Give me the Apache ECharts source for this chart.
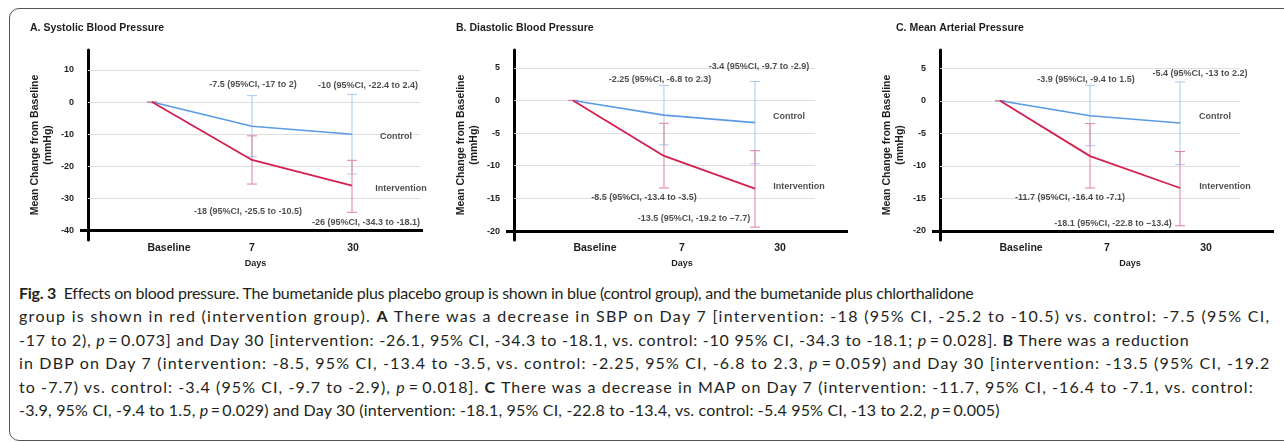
<!DOCTYPE html>
<html>
<head>
<meta charset="utf-8">
<title>Fig. 3 Effects on blood pressure</title>
<script src="https://cdn.jsdelivr.net/npm/echarts@6/dist/echarts.min.js"></script>
<style>
  body { margin: 0; background: #fff; width: 1284px; height: 442px; overflow: hidden; position: relative; }
  #frame { position: absolute; left: 9px; top: 8px; width: 1400px; height: 431px;
           border: 1.5px solid #555; border-radius: 10px; }
  #main { position: absolute; left: 0; top: 0; width: 1284px; height: 275px; }
  #caption { position: absolute; left: 19px; top: 281px; font-family: Lato, 'Noto Sans', sans-serif;
             font-size: 16px; line-height: 23.4px; color: #231f20; }
  #caption .ln { white-space: nowrap; }
</style>
</head>
<body>
<div id="frame"></div>
<div id="main"></div>
<div id="caption">
  <div class="ln" data-w="954"><b>Fig. 3</b>&nbsp; Effects on blood pressure. The bumetanide plus placebo group is shown in blue (control group), and the bumetanide plus chlorthalidone</div>
  <div class="ln" data-w="1252">group is shown in red (intervention group). <b>A</b> There was a decrease in SBP on Day 7 [intervention: -18 (95% CI, -25.2 to -10.5) vs. control: -7.5 (95% CI,</div>
  <div class="ln" data-w="1171">-17 to 2), <i>p</i>&#8201;=&#8201;0.073] and Day 30 [intervention: -26.1, 95% CI, -34.3 to -18.1, vs. control: -10 95% CI, -34.3 to -18.1; <i>p</i>&#8201;=&#8201;0.028]. <b>B</b> There was a reduction</div>
  <div class="ln" data-w="1252">in DBP on Day 7 (intervention: -8.5, 95% CI, -13.4 to -3.5, vs. control: -2.25, 95% CI, -6.8 to 2.3, <i>p</i>&#8201;=&#8201;0.059) and Day 30 [intervention: -13.5 (95% CI, -19.2</div>
  <div class="ln" data-w="1235">to -7.7) vs. control: -3.4 (95% CI, -9.7 to -2.9), <i>p</i>&#8201;=&#8201;0.018]. <b>C</b> There was a decrease in MAP on Day 7 (intervention: -11.7, 95% CI, -16.4 to -7.1, vs. control:</div>
  <div class="ln" data-w="981">-3.9, 95% CI, -9.4 to 1.5, <i>p</i>&#8201;=&#8201;0.029) and Day 30 (intervention: -18.1, 95% CI, -22.8 to -13.4, vs. control: -5.4 95% CI, -13 to 2.2, <i>p</i>&#8201;=&#8201;0.005)</div>
</div>
<script type="text/javascript">
var days = ['Baseline', '7', '30'];

// A. systolic
var sbpTicks = [-40, -30, -20, -10, 0, 10];
var sbpControl = [0, -7.5, -10];
var sbpControlLow = [0, -17, -22.4];
var sbpControlHigh = [0, 2, 2.4];
var sbpInterv = [0, -18, -26];
var sbpIntervLow = [0, -25.5, -34.3];
var sbpIntervHigh = [0, -10.5, -18.1];
var sbpNotes = ['-7.5 (95%CI, -17 to 2)', '-10 (95%CI, -22.4 to 2.4)',
  '-18 (95%CI, -25.5 to -10.5)', '-26 (95%CI, -34.3 to -18.1)'];

// B. diastolic
var dbpTicks = [-20, -15, -10, -5, 0, 5];
var dbpControl = [0, -2.25, -3.4];
var dbpControlLow = [0, -6.8, -9.7];
var dbpControlHigh = [0, 2.3, 2.9];
var dbpInterv = [0, -8.5, -13.5];
var dbpIntervLow = [0, -13.4, -19.4];
var dbpIntervHigh = [0, -3.5, -7.7];
var dbpNotes = ['-2.25 (95%CI, -6.8 to 2.3)', '-3.4 (95%CI, -9.7 to -2.9)',
  '-8.5 (95%CI, -13.4 to -3.5)', '-13.5 (95%CI, -19.2 to \u20137.7)'];

// C. mean arterial
var mapTicks = [-20, -15, -10, -5, 0, 5];
var mapControl = [0, -2.3, -3.4];
var mapControlLow = [0, -6.9, -9.8];
var mapControlHigh = [0, 2.4, 2.9];
var mapInterv = [0, -8.5, -13.4];
var mapIntervLow = [0, -13.4, -19.2];
var mapIntervHigh = [0, -3.5, -7.8];
var mapNotes = ['-3.9 (95%CI, -9.4 to 1.5)', '-5.4 (95%CI, -13 to 2.2)',
  '-11.7 (95%CI, -16.4 to -7.1)', '-18.1 (95%CI, -22.8 to \u201313.4)'];

var groupNames = ['Control', 'Intervention'];

// layout of each panel (pixels / axis extents)
var layouts = [
  { title: 'A. Systolic Blood Pressure', titleLeft: 30, left: 80, right: 861,
    xMin: -0.72, xMax: 2.71, gridFrom: -0.64, gridTo: 2.68, yMin: -42.9, yMax: 16.2,
    labelShift: [17, 0, 1], daysShift: 4,
    noteOffsets: [[1, -11], [16, -9], [-4, 27], [14, 10], [44, 2], [49, 3]] },
  { title: 'B. Diastolic Blood Pressure', titleLeft: 456, left: 506, right: 436,
    xMin: -0.736, xMax: 3.022, gridFrom: -0.645, gridTo: 2.66, yMin: -21.37, yMax: 7.72,
    labelShift: [22, 18, 25], daysShift: 5,
    noteOffsets: [[-4, -6], [4, -15], [-20, 10], [-61, -9], [34, -6], [44, -2]] },
  { title: 'C. Mean Arterial Pressure', titleLeft: 896, left: 932, right: 10,
    xMin: -0.756, xMax: 3.044, gridFrom: -0.667, gridTo: 2.667, yMin: -21.39, yMax: 7.81,
    labelShift: [21, 17, 26], daysShift: 27,
    noteOffsets: [[-4, -6], [20, -8], [-20, 10], [-67, -2], [35, -6], [45, -1]] }
];

var panels = [
  { ticks: sbpTicks, ctrl: sbpControl, ctrlLo: sbpControlLow, ctrlHi: sbpControlHigh,
    intv: sbpInterv, intvLo: sbpIntervLow, intvHi: sbpIntervHigh, notes: sbpNotes },
  { ticks: dbpTicks, ctrl: dbpControl, ctrlLo: dbpControlLow, ctrlHi: dbpControlHigh,
    intv: dbpInterv, intvLo: dbpIntervLow, intvHi: dbpIntervHigh, notes: dbpNotes },
  { ticks: mapTicks, ctrl: mapControl, ctrlLo: mapControlLow, ctrlHi: mapControlHigh,
    intv: mapInterv, intvLo: mapIntervLow, intvHi: mapIntervHigh, notes: mapNotes }
];

var FONT = '"Liberation Sans", Arial, sans-serif';
var INK = '#1e1e1e';
var BLUE = '#5b9ae4', BLUE_BAR = '#a9c9ef';
var RED = '#d3204f', RED_BAR = '#e27f99';

var myChart = echarts.init(document.getElementById('main'));

function renderErrorBar(params, api) {
  var x = api.value(0);
  var lo = api.coord([x, api.value(1)]);
  var hi = api.coord([x, api.value(2)]);
  var hw = 5;
  var style = { stroke: api.visual('color'), lineWidth: 1 };
  return {
    type: 'group',
    children: [
      { type: 'line', shape: { x1: lo[0], y1: lo[1], x2: hi[0], y2: hi[1] }, style: style },
      { type: 'line', shape: { x1: lo[0] - hw, y1: lo[1], x2: lo[0] + hw, y2: lo[1] }, style: style },
      { type: 'line', shape: { x1: hi[0] - hw, y1: hi[1], x2: hi[0] + hw, y2: hi[1] }, style: style }
    ]
  };
}

var grids = [], xAxes = [], yAxes = [], titles = [], series = [];

panels.forEach(function (p, k) {
  var lay = layouts[k];
  titles.push({
    text: lay.title, left: lay.titleLeft, top: 23, padding: 0,
    textStyle: { fontFamily: FONT, fontSize: 10.5, fontWeight: 'bold', color: INK }
  });
  grids.push({ left: lay.left, right: lay.right, top: 50, height: 190 });

  var rich = {};
  days.forEach(function (d, i) {
    rich['s' + i] = { fontFamily: FONT, fontSize: 10.5, fontWeight: 'bold', color: INK,
      padding: [0, 0, 0, 2 * lay.labelShift[i]] };
  });
  xAxes.push({
    gridIndex: k, type: 'value', min: lay.xMin, max: lay.xMax,
    axisLine: { show: false }, axisTick: { show: false }, splitLine: { show: false },
    axisLabel: {
      customValues: days.map(function (d, i) { return i; }),
      margin: 3,
      formatter: function (v) { return '{s' + v + '|' + days[v] + '}'; },
      rich: rich
    },
    name: 'Days', nameLocation: 'middle', nameGap: 18,
    nameTextStyle: { fontFamily: FONT, fontSize: 9, fontWeight: 'bold', color: INK,
      padding: [0, 0, 0, 2 * lay.daysShift] }
  });
  yAxes.push({
    gridIndex: k, type: 'value', min: lay.yMin, max: lay.yMax, offset: -8,
    axisLine: { show: true, onZero: false, lineStyle: { color: '#000', width: 3 } },
    axisTick: { show: false }, splitLine: { show: false },
    axisLabel: { customValues: p.ticks, margin: 14, fontFamily: FONT, fontSize: 9,
      fontWeight: 'bold', color: INK },
    name: 'Mean Change from Baseline\n(mmHg)', nameLocation: 'middle', nameGap: 33,
    nameTextStyle: { fontFamily: FONT, fontSize: 10.5, fontWeight: 'bold', color: INK, lineHeight: 13 }
  });

  // grid lines and the x axis line
  var guides = p.ticks.map(function (v) {
    return [{ coord: [lay.gridFrom, v] }, { coord: [lay.gridTo, v] }];
  });
  guides.push([{ coord: [lay.xMin, p.ticks[0]], lineStyle: { color: '#000', width: 3 } },
    { coord: [lay.xMax, p.ticks[0]] }]);

  series.push({
    type: 'custom', xAxisIndex: k, yAxisIndex: k, z: 2,
    itemStyle: { color: BLUE_BAR },
    renderItem: renderErrorBar,
    encode: { x: 0, y: [1, 2] },
    data: days.map(function (d, i) { return [i, p.ctrlLo[i], p.ctrlHi[i]]; })
  });
  series.push({
    type: 'custom', xAxisIndex: k, yAxisIndex: k, z: 2,
    itemStyle: { color: RED_BAR },
    renderItem: renderErrorBar,
    encode: { x: 0, y: [1, 2] },
    data: days.map(function (d, i) { return [i, p.intvLo[i], p.intvHi[i]]; })
  });
  series.push({
    type: 'line', name: 'Control', xAxisIndex: k, yAxisIndex: k, z: 3,
    symbol: 'none', lineStyle: { color: BLUE, width: 1.6 },
    data: days.map(function (d, i) { return [i, p.ctrl[i]]; }),
    markLine: {
      z: 1, silent: true, symbol: ['none', 'none'], animation: false,
      label: { show: false },
      lineStyle: { color: '#dedede', width: 1.2, type: 'solid' },
      data: guides
    }
  });
  series.push({
    type: 'line', name: 'Intervention', xAxisIndex: k, yAxisIndex: k, z: 3,
    symbol: 'none', lineStyle: { color: RED, width: 1.8 },
    data: days.map(function (d, i) { return [i, p.intv[i]]; })
  });

  // annotations, anchored on the bars / line ends
  var anchors = [
    [1, p.ctrlHi[1]], [2, p.ctrlHi[2]], [1, p.intvLo[1]], [2, p.intvLo[2]],
    [2, p.ctrl[2]], [2, p.intv[2]]
  ];
  var texts = p.notes.concat(groupNames);
  series.push({
    type: 'scatter', xAxisIndex: k, yAxisIndex: k, z: 4,
    symbolSize: 1, itemStyle: { color: 'rgba(0,0,0,0)' }, silent: true,
    label: { show: true, position: 'inside', formatter: '{b}', fontFamily: FONT,
      fontSize: 9, fontWeight: 'bold', color: INK },
    data: anchors.map(function (a, i) {
      return { name: texts[i], value: a, label: { offset: lay.noteOffsets[i] } };
    })
  });
});

myChart.setOption({
  animation: false,
  backgroundColor: 'transparent',
  title: titles,
  grid: grids,
  xAxis: xAxes,
  yAxis: yAxes,
  series: series
});

// spread each caption line evenly to the width it has in the printed figure
function fitCaption() {
  var lines = document.querySelectorAll('#caption .ln');
  for (var i = 0; i < lines.length; i++) {
    var el = lines[i];
    el.style.letterSpacing = '0px';
    el.style.display = 'inline-block';
    var natural = el.getBoundingClientRect().width;
    el.style.display = 'block';
    var chars = el.textContent.trim().length;
    var target = parseFloat(el.getAttribute('data-w'));
    el.style.letterSpacing = ((target - natural) / chars) + 'px';
  }
}
fitCaption();
if (document.fonts && document.fonts.ready) document.fonts.ready.then(fitCaption);
</script>
</body>
</html>
